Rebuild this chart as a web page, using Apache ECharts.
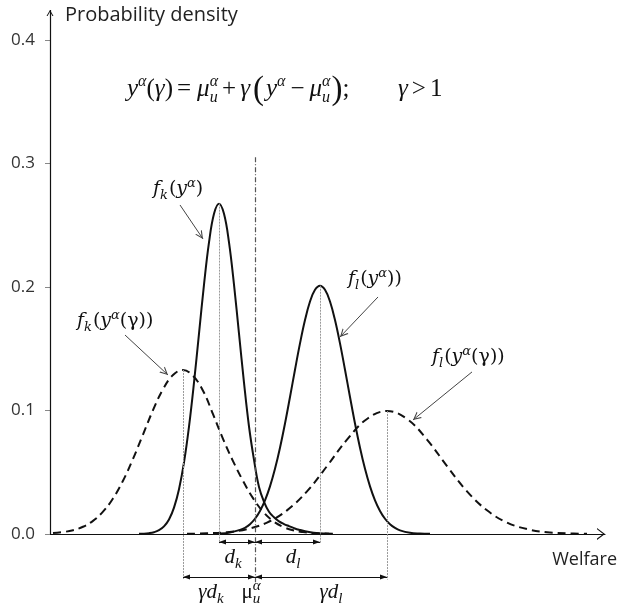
<!DOCTYPE html>
<html>
<head>
<meta charset="utf-8">
<script src="https://cdn.jsdelivr.net/npm/echarts@6/dist/echarts.min.js"></script>
<style>
  html, body { margin: 0; padding: 0; background: #fff; }
  #chart { width: 619px; height: 609px; }
</style>
</head>
<body>
<div id="chart"></div>
<script>
// y axis ticks
const yTicks = [0, 0.1, 0.2, 0.3, 0.4];

// densities, [welfare, density]
const fk = [
  [8.9, 0.0001], [9.4, 0.0002], [9.9, 0.0006], [10.4, 0.0014], [10.9, 0.003], [11.4, 0.0061],
  [11.9, 0.0117], [12.4, 0.0213], [12.9, 0.0362], [13.4, 0.0579], [13.9, 0.0869], [14.4, 0.1225],
  [14.9, 0.1622], [15.4, 0.2019], [15.9, 0.2361], [16.4, 0.2593], [16.9, 0.2675], [17.4, 0.2593],
  [17.9, 0.2361], [18.4, 0.2019], [18.9, 0.1622], [19.4, 0.1225], [19.9, 0.087], [20.4, 0.06],
  [20.9, 0.038], [21.4, 0.026], [21.9, 0.018], [22.4, 0.0135], [22.9, 0.0102], [23.4, 0.008],
  [23.9, 0.0063], [24.4, 0.0047], [24.9, 0.0034], [25.9, 0.0015], [26.9, 0.0005], [27.9, 0.0001]
];
const fl = [
  [17.0, 0.0003], [18.0, 0.0012], [19.0, 0.0033], [19.5, 0.005], [20.0, 0.0079], [20.5, 0.0123],
  [21.0, 0.0186], [21.5, 0.0272], [22.0, 0.0385], [22.5, 0.0527], [23.0, 0.0698], [23.5, 0.0894],
  [24.0, 0.1109], [24.5, 0.133], [25.0, 0.1543], [25.5, 0.1732], [26.0, 0.1882], [26.5, 0.1977],
  [27.0, 0.201], [27.5, 0.1977], [28.0, 0.1882], [28.5, 0.1732], [29.0, 0.1543], [29.5, 0.133],
  [30.0, 0.1109], [30.5, 0.0894], [31.0, 0.0698], [31.5, 0.0527], [32.0, 0.0385], [32.5, 0.0272],
  [33.0, 0.0186], [33.5, 0.0123], [34.0, 0.0079], [34.5, 0.0049], [35.0, 0.0029], [36.0, 0.0009],
  [37.0, 0.0003], [38.0, 0.0001]
];
const fkGamma = [
  [0.3, 0.0007], [1.3, 0.0015], [2.3, 0.003], [3.3, 0.0058], [4.3, 0.0106], [5.3, 0.018],
  [6.3, 0.0287], [7.3, 0.0431], [8.3, 0.0608], [9.3, 0.0805], [10.3, 0.1002], [11.3, 0.1172],
  [12.3, 0.1287], [13.3, 0.1328], [14.3, 0.128], [15.3, 0.116], [16.3, 0.097], [17.3, 0.077],
  [18.3, 0.059], [19.3, 0.043], [20.3, 0.029], [21.3, 0.018], [22.3, 0.0105], [23.3, 0.0058],
  [24.3, 0.003], [25.3, 0.0015], [26.3, 0.0007], [27.3, 0.0003], [28.3, 0.0001]
];
const flGamma = [
  [13.7, 0.0001], [15.7, 0.0005], [17.7, 0.0014], [19.7, 0.0039], [21.7, 0.0092], [23.7, 0.0191],
  [25.7, 0.0345], [27.7, 0.0549], [29.7, 0.0764], [31.7, 0.0931], [33.7, 0.0995], [35.7, 0.0931],
  [37.7, 0.0764], [39.7, 0.0549], [41.7, 0.0345], [43.7, 0.0191], [45.7, 0.0092], [47.7, 0.0039],
  [49.7, 0.0014], [51.7, 0.0005], [53.7, 0.0001]
];

const muU = 20.5;   // μ_u^α on the welfare axis

// ------------------------------------------------------------
const CHEV = 'path://M5,0L5.01,0ZM0,20L5,10L10,20L8.5,20L5,13L1.5,20Z';
const AXCHEV = 'path://M6,2L6.01,2ZM0,18L6,10L12,18L10.6,18L6,11.9L1.4,18Z';
const HEAD = 'path://M5,0L5.01,0ZM5,10L2,20L8,20Z';

const peakOf = arr => arr.reduce((a, b) => (b[1] > a[1] ? b : a));
const pk = peakOf(fk), pl = peakOf(fl), pkg = peakOf(fkGamma), plg = peakOf(flGamma);

function seg(a, b, style, endA, endB) {
  const ea = endA || { symbol: 'none' };
  const eb = endB || { symbol: 'none' };
  return [
    { coord: a, symbol: ea.symbol, symbolSize: ea.size, lineStyle: style },
    { coord: b, symbol: eb.symbol, symbolSize: eb.size, lineStyle: style }
  ];
}
const axisStyle = { color: '#111', width: 1.2, type: 'solid' };
const guideStyle = { color: '#999', width: 1, type: [2, 1] };
const muStyle = { color: '#555', width: 1.2, type: [5, 2, 1, 2] };
const brStyle = { color: '#111', width: 1, type: 'solid' };
const annStyle = { color: '#444', width: 1, type: 'solid' };
const head = { symbol: HEAD, size: [5, 14] };
const chev = { symbol: CHEV, size: [8, 16] };

const dLevel = -0.0065, gLevel = -0.0348;
const marks = [
  seg([0, 0], [0, 0.4243], axisStyle, null, { symbol: CHEV, size: [7, 12] }),
  seg([pk[0], pk[1]], [pk[0], -0.0075], guideStyle),
  seg([pl[0], pl[1]], [pl[0], -0.0075], guideStyle),
  seg([pkg[0], pkg[1]], [pkg[0], -0.037], guideStyle),
  seg([plg[0], plg[1]], [plg[0], -0.037], guideStyle),
  seg([muU, 0.305], [muU, -0.04], muStyle),
  seg([pk[0], dLevel], [muU, dLevel], brStyle, head, head),
  seg([muU, dLevel], [pl[0], dLevel], brStyle, head, head),
  seg([pkg[0], gLevel], [muU, gLevel], brStyle, head, head),
  seg([muU, gLevel], [plg[0], gLevel], brStyle, head, head),
  seg([13.0, 0.2664], [15.3, 0.2389], annStyle, null, chev),
  seg([32.8, 0.1919], [29.0, 0.1595], annStyle, null, chev),
  seg([7.5, 0.1611], [11.8, 0.1287], annStyle, null, chev),
  seg([42.2, 0.1312], [36.3, 0.0923], annStyle, null, chev)
];

function curve(name, data, dashed, extra) {
  return Object.assign({
    name, type: 'line', data, smooth: 0.4,
    showSymbol: false, symbol: 'none', clip: false, silent: true, z: 3,
    lineStyle: { color: '#111', width: 2, type: dashed ? [8, 5] : 'solid', join: 'round' }
  }, extra || {});
}

const chart = echarts.init(document.getElementById('chart'));
chart.setOption({
  animation: false,
  backgroundColor: '#fff',
  grid: { left: 50, top: 3, width: 555, height: 605, outerBoundsMode: 'none' },
  xAxis: {
    type: 'value', min: 0, max: 55.5,
    axisLine: {
      show: true, onZero: true,
      lineStyle: { color: '#111', width: 1.2 },
      symbol: ['none', AXCHEV], symbolSize: [12, 16]
    },
    axisTick: { show: false }, axisLabel: { show: false }, splitLine: { show: false }
  },
  yAxis: {
    type: 'value', min: -0.06, max: 0.43,
    axisLine: { show: false },
    axisTick: { show: true, length: 5, customValues: yTicks, lineStyle: { color: '#888' } },
    axisLabel: {
      show: true, customValues: yTicks, margin: 15,
      formatter: v => v.toFixed(1),
      fontFamily: 'Open Sans', fontSize: 17, color: '#333'
    },
    splitLine: { show: false }
  },
  series: [
    curve('fk', fk, false, {
      markLine: {
        silent: true, animation: false, label: { show: false }, emphasis: { disabled: true },
        symbol: ['none', 'none'], data: marks
      }
    }),
    curve('fl', fl, false),
    curve('fkGamma', fkGamma, true),
    curve('flGamma', flGamma, true)
  ]
});

// ---------- math-style text ----------
const ctx = document.createElement('canvas').getContext('2d');
function tw(s, font) { ctx.font = font; return ctx.measureText(s).width; }
function fontStr(it, size, fam) { return (it ? 'italic ' : '') + size + 'px ' + fam; }

function mathText(runs, at, size, fam, align, ratio) {
  const p = chart.convertToPixel({ gridIndex: 0 }, at);
  const small = Math.round(size * (ratio || 0.62));
  const pieces = [];
  let x = 0;
  runs.forEach(r => {
    if (r.gap) x += r.gap;
    if (r.t) {
      const s = Math.round(size * (r.scale || 1));
      pieces.push({ t: r.t, it: r.it, s, x, dy: r.dy || 0 });
      x += tw(r.t, fontStr(r.it, s, fam));
    }
    if (r.sup || r.sub) {
      let w = 0;
      if (r.sup) { pieces.push({ t: r.sup, it: true, s: small, x: x + (r.kern || 0), dy: -size * 0.42 }); w = Math.max(w, tw(r.sup, fontStr(true, small, fam)) + (r.kern || 0)); }
      if (r.sub) { pieces.push({ t: r.sub, it: true, s: small, x, dy: size * 0.22 }); w = Math.max(w, tw(r.sub, fontStr(true, small, fam))); }
      x += w;
    }
  });
  const shift = align === 'center' ? -x / 2 : 0;
  return pieces.map(e => ({
    type: 'text', silent: true, z: 10,
    x: p[0] + e.x + shift, y: p[1] + e.dy - 0.34 * e.s,
    style: {
      text: e.t, fontSize: e.s, fontFamily: fam, fontStyle: e.it ? 'italic' : 'normal',
      fill: '#111', align: 'left', verticalAlign: 'middle'
    }
  }));
}

const TM = '"Liberation Serif"';
const DJ = '"DejaVu Serif"';
let g = [];
// formula
g = g.concat(mathText([
  { t: 'y', it: true, sup: 'α' }, { t: '(' }, { t: 'γ', it: true }, { t: ')' }, { gap: 4 }, { t: '=' }, { gap: 6 },
  { t: 'μ', it: true, sup: 'α', sub: 'u' }, { gap: 4 }, { t: '+' }, { gap: 4 }, { t: 'γ', it: true }, { gap: 3 },
  { t: '(', scale: 1.3, dy: 3 }, { gap: 2 }, { t: 'y', it: true, sup: 'α' }, { gap: 5 }, { t: '−' }, { gap: 5 },
  { t: 'μ', it: true, sup: 'α', sub: 'u' }, { gap: 1 }, { t: ')', scale: 1.3, dy: 3 }, { t: ';' }
], [7.7, 0.353], 25, TM));
g = g.concat(mathText([{ t: 'γ', it: true }, { gap: 4 }, { t: '>' }, { gap: 4 }, { t: '1' }], [34.8, 0.353], 25, TM));

// curve labels
g = g.concat(mathText([{ t: 'f', it: true, sub: 'k' }, { gap: 1 }, { t: '(' }, { t: 'y', it: true, sup: 'α' }, { t: ')' }], [10.3, 0.2737], 19, DJ, 'left', 0.68));
g = g.concat(mathText([{ t: 'f', it: true, sub: 'l' }, { gap: 1 }, { t: '(' }, { t: 'y', it: true, sup: 'α' }, { t: '))' }], [29.8, 0.2008], 19, DJ, 'left', 0.68));
g = g.concat(mathText([{ t: 'f', it: true, sub: 'k' }, { gap: 1 }, { t: '(' }, { t: 'y', it: true, sup: 'α' }, { t: '(γ))' }], [2.7, 0.1668], 19, DJ, 'left', 0.68));
g = g.concat(mathText([{ t: 'f', it: true, sub: 'l' }, { gap: 1 }, { t: '(' }, { t: 'y', it: true, sup: 'α' }, { t: '(γ))' }], [38.2, 0.1377], 19, DJ, 'left', 0.68));

// distance labels
g = g.concat(mathText([{ t: 'd', it: true, sub: 'k' }], [18.3, -0.0251], 21, TM, 'center', 0.7));
g = g.concat(mathText([{ t: 'd', it: true, sub: 'l' }], [24.3, -0.0251], 21, TM, 'center', 0.7));
g = g.concat(mathText([{ t: 'γd', it: true, sub: 'k' }], [16.1, -0.0534], 21, TM, 'center', 0.7));
g = g.concat(mathText([{ t: 'μ', sup: 'α', sub: 'u' }], [20.1, -0.0534], 21, TM, 'center', 0.7));
g = g.concat(mathText([{ t: 'γd', it: true, sub: 'l' }], [28.1, -0.0534], 21, TM, 'center', 0.7));

// axis titles
g.push({
  type: 'text', silent: true, x: 65, y: 15,
  style: { text: 'Probability density', fontFamily: 'Open Sans', fontSize: 20, fill: '#222', align: 'left', verticalAlign: 'middle' }
});
g.push({
  type: 'text', silent: true, x: 617, y: 560,
  style: { text: 'Welfare', fontFamily: 'Open Sans', fontSize: 18, fill: '#222', align: 'right', verticalAlign: 'middle' }
});

chart.setOption({ graphic: g });
</script>
</body>
</html>
